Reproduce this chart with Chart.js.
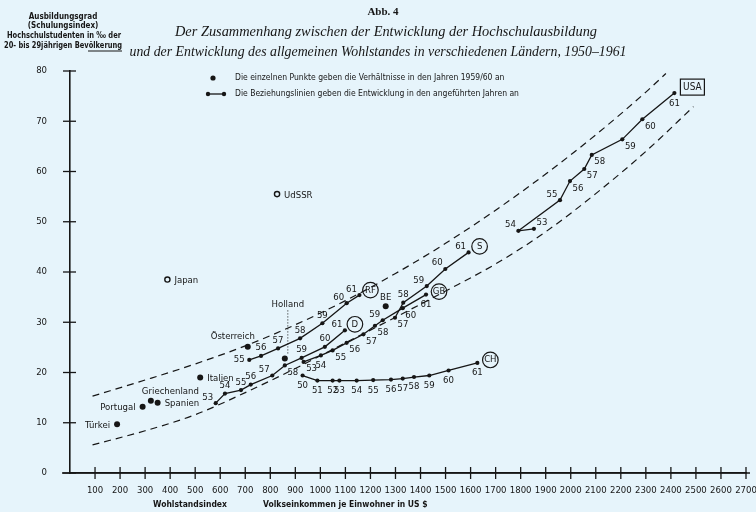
<!DOCTYPE html>
<html><head><meta charset="utf-8">
<script src="https://cdn.jsdelivr.net/npm/chart.js@4"></script>
<style>html,body{margin:0;padding:0;background:#e6f4fb;}canvas{display:block}</style>
</head><body>
<canvas id="c" width="756" height="512"></canvas>
<script>
// ---- data ----
const xTickValues = [0,100,200,300,400,500,600,700,800,900,1000,1100,1200,1300,1400,1500,1600,1700,1800,1900,2000,2100,2200,2300,2400,2500,2600,2700];
const yTickValues = [0,10,20,30,40,50,60,70,80];

const yearsD = [53,54,55,56,57,58,59,60,61];
const incomeD = [582,619,683,722,808,858,925,1018,1098];
const indexD = [13.9,15.8,16.5,17.6,19.4,21.4,22.9,25.1,28.4];

const yearsRF = [55,56,57,58,59,60,61];
const incomeRF = [716,763,831,919,1008,1105,1156];
const indexRF = [22.5,23.3,24.8,26.8,29.8,33.8,35.4];

const yearsGB = [53,54,55,56,57,58,59,60,61];
const incomeGB = [933,1002,1049,1105,1172,1218,1249,1329,1422];
const indexGB = [22.1,23.4,24.4,25.9,27.6,29.3,30.4,32.8,35.5];

const yearsS = [57,58,59,60,61];
const incomeS = [1298,1331,1425,1499,1592];
const indexS = [30.9,33.9,37.2,40.6,43.9];

const yearsCH = [50,51,52,53,54,55,56,57,58,59,60,61];
const incomeCH = [929,988,1049,1076,1145,1211,1282,1329,1374,1435,1512,1627];
const indexCH = [19.4,18.4,18.4,18.4,18.4,18.5,18.6,18.8,19.1,19.4,20.4,21.9];

const yearsUSA = [53,54,55,56,57,58,59,60,61];
const incomeUSA = [1853,1791,1957,1997,2054,2084,2206,2286,2414];
const indexUSA = [48.6,48.2,54.3,58.1,60.5,63.3,66.4,70.4,75.6];

const singleNames = ['Türkei','Portugal','Griechenland','Spanien','Italien','Österreich','Holland','BE'];
const singleIncome = [188,290,323,350,520,710,858,1261];
const singleIndex = [9.7,13.2,14.4,14.0,19.0,25.1,22.8,33.2];

const openNames = ['Japan','UdSSR'];
const openIncome = [389,827];
const openIndex = [38.5,55.5];

const upperIncome = [90,300,500,700,900,1100,1300,1500,1700,1900,2100,2300,2380];
const upperIndex = [15.3,18.5,21.7,25.3,29.5,34.3,39.7,45.7,52.3,59.5,67.3,75.8,79.5];
const lowerIncome = [90,300,500,700,900,1100,1300,1500,1700,1900,2100,2300,2490];
const lowerIndex = [5.6,8.4,11.6,16.0,20.8,25.9,31.0,36.2,41.6,48.0,55.6,64.0,72.9];

// ---- label placement (style, not data) ----
const placeD = ['al','a','a','a','al','br','a','a','al'];
const placeRF = ['l','a','a','a','a','al','al'];
const placeGB = ['br','b','br','br','br','br','al','br','b'];
const placeS = ['br','a','al','al','al'];
const placeCH = ['b','b','b','b','b','b','b','b','b','b','b','b'];
const placeUSA = ['ar','al','al','br','br','br','br','br','b'];
const singlePlace = ['l','l','g','r','r','o','h','a'];

const bg = '#e6f4fb';
const ink = '#161616';
const SANS = '"Liberation Sans Narrow","DejaVu Sans Condensed","Arial Narrow",sans-serif';
const SERIF = '"Liberation Serif","DejaVu Serif",serif';

function pts(a, b){ return a.map((v,i)=>({x:v, y:b[i]})); }
function lineDs(tag, years, inc, idx, place){
  return { tag, years, place, showLine:true, data:pts(inc,idx), borderColor:ink, borderWidth:1.3,
    pointRadius:2.1, pointBackgroundColor:ink, pointBorderWidth:0, tension:0 };
}
function bandDs(inc, idx){
  return { showLine:true, data:pts(inc,idx), borderColor:ink, borderWidth:1.2, borderDash:[7,5],
    pointRadius:0, tension:0.4, cubicInterpolationMode:'monotone' };
}

const offsets = { a:[0,-8], b:[0,10], al:[-8,-6], ar:[8,-6], br:[8,7], bl:[-8,7], l:[-10,0], r:[10,0] };

const overlay = {
  id:'overlay',
  beforeDraw(chart){ const c=chart.ctx; c.save(); c.fillStyle=bg; c.fillRect(0,0,chart.width,chart.height); c.restore(); },
  afterDraw(chart){
    const c = chart.ctx, xs = chart.scales.x, ys = chart.scales.y;
    c.save();
    c.strokeStyle = ink; c.fillStyle = ink; c.lineWidth = 1.3;
    // axis extension and crossing tick marks
    c.beginPath(); c.moveTo(xs.left-8, ys.bottom); c.lineTo(xs.right+4, ys.bottom); c.stroke();
    ys.ticks.forEach(t=>{ const py=ys.getPixelForValue(t.value); c.beginPath(); c.moveTo(xs.left-7,py); c.lineTo(xs.left+6,py); c.stroke(); });
    xs.ticks.forEach(t=>{ if(t.value===0) return; const px=xs.getPixelForValue(t.value); c.beginPath(); c.moveTo(px,ys.bottom-6); c.lineTo(px,ys.bottom+6); c.stroke(); });

    // title
    c.textAlign='center'; c.textBaseline='middle';
    c.font = 'bold 11px '+SERIF; c.fillText('Abb. 4', 383, 12);
    c.font = 'italic 15px '+SERIF;
    c.fillText('Der Zusammenhang zwischen der Entwicklung der Hochschulausbildung', 386, 32, 422);
    c.fillText('und der Entwicklung des allgemeinen Wohlstandes in verschiedenen Ländern, 1950–1961', 378, 52, 497);

    // y axis title
    c.font = 'bold 8px '+SANS;
    c.fillText('Ausbildungsgrad', 63, 17);
    c.fillText('(Schulungsindex)', 63, 26);
    c.fillText('Hochschulstudenten in ‰ der', 64, 36, 114);
    c.fillText('20- bis 29jährigen Bevölkerung', 63, 46, 118);
    c.lineWidth = 1.2; c.beginPath(); c.moveTo(88,51); c.lineTo(122,51); c.stroke();

    // x axis titles
    c.font = 'bold 8.5px '+SANS;
    c.fillText('Wohlstandsindex', 190, 505);
    c.textAlign='left'; c.fillText('Volkseinkommen je Einwohner in US $', 263, 505);

    // legend
    c.font = '8.5px '+SANS; c.textAlign='left';
    c.beginPath(); c.arc(213,78,2.6,0,Math.PI*2); c.fill();
    c.fillText('Die einzelnen Punkte geben die Verhältnisse in den Jahren 1959/60 an', 235, 78);
    c.lineWidth=1.3; c.beginPath(); c.moveTo(208,94); c.lineTo(224,94); c.stroke();
    c.beginPath(); c.arc(208,94,2.2,0,Math.PI*2); c.fill();
    c.beginPath(); c.arc(224,94,2.2,0,Math.PI*2); c.fill();
    c.fillText('Die Beziehungslinien geben die Entwicklung in den angeführten Jahren an', 235, 94);

    // year labels & country marks
    c.font = '9.5px '+SANS; c.textAlign='center'; c.textBaseline='middle';
    chart.data.datasets.forEach((ds,i)=>{
      if(!ds.years) return;
      const meta = chart.getDatasetMeta(i);
      meta.data.forEach((p,j)=>{
        const o = offsets[ds.place[j]] || [0,-8];
        c.fillText(String(ds.years[j]), p.x+o[0], p.y+o[1]);
      });
      const last = meta.data[meta.data.length-1];
      c.lineWidth = 1.2;
      if(ds.tag==='USA'){
        const cx=last.x+18, cy=last.y-6;
        c.font='10px '+SANS; c.fillText('USA', cx, cy);
        c.strokeRect(cx-12, cy-8, 24, 16);
        c.font='9.5px '+SANS;
      } else {
        const d = {RF:[11,-5], D:[10,-6], GB:[13,-3], S:[11,-6], CH:[13,-3]}[ds.tag];
        const cx=last.x+d[0], cy=last.y+d[1];
        c.beginPath(); c.arc(cx,cy,7.8,0,Math.PI*2); c.stroke();
        c.fillText(ds.tag, cx, cy);
      }
    });

    // single point names
    c.font = '9.5px '+SANS;
    chart.data.datasets.forEach((ds,i)=>{
      if(!ds.names) return;
      const meta = chart.getDatasetMeta(i);
      meta.data.forEach((p,j)=>{
        const k = ds.names[j], pl = ds.place[j];
        if(pl==='l'){ c.textAlign='right'; c.fillText(k, p.x-7, p.y+1); }
        else if(pl==='r'){ c.textAlign='left'; c.fillText(k, p.x+7, p.y+1); }
        else if(pl==='g'){ c.textAlign='left'; c.fillText(k, p.x-9, p.y-9); }
        else if(pl==='o'){ c.textAlign='center'; c.fillText(k, p.x-15, p.y-10); }
        else if(pl==='a'){ c.textAlign='center'; c.fillText(k, p.x, p.y-9); }
        else if(pl==='h'){
          c.textAlign='center'; c.fillText(k, p.x+3, p.y-54);
          c.save(); c.setLineDash([1,2]); c.lineWidth=1; c.beginPath(); c.moveTo(p.x+3,p.y-48); c.lineTo(p.x+3,p.y-4); c.stroke(); c.restore();
        }
      });
    });
    c.restore();
  }
};

new Chart(document.getElementById('c'), {
  type:'scatter',
  data:{ datasets:[
    bandDs(upperIncome, upperIndex),
    bandDs(lowerIncome, lowerIndex),
    lineDs('D', yearsD, incomeD, indexD, placeD),
    lineDs('RF', yearsRF, incomeRF, indexRF, placeRF),
    lineDs('GB', yearsGB, incomeGB, indexGB, placeGB),
    lineDs('S', yearsS, incomeS, indexS, placeS),
    lineDs('CH', yearsCH, incomeCH, indexCH, placeCH),
    lineDs('USA', yearsUSA, incomeUSA, indexUSA, placeUSA),
    { names:singleNames, place:singlePlace, data:pts(singleIncome, singleIndex), showLine:false,
      pointRadius:3, pointBackgroundColor:ink, pointBorderWidth:0 },
    { names:openNames, place:['r','r'], data:pts(openIncome, openIndex), showLine:false,
      pointRadius:2.6, pointBackgroundColor:bg, pointBorderColor:ink, pointBorderWidth:1.4 }
  ]},
  options:{
    responsive:false, animation:false, devicePixelRatio:1,
    layout:{ padding:{ top:71, right:10, bottom:0, left:0 } },
    plugins:{ legend:{display:false}, title:{display:false}, tooltip:{enabled:false} },
    scales:{
      x:{ type:'linear', min:0, max:2700,
        afterFit(s){ s.height = 39; s.paddingLeft = 0; s.paddingRight = 0; },
        afterBuildTicks(s){ s.ticks = xTickValues.map(v=>({value:v})); },
        grid:{ display:false, drawTicks:false }, border:{ color:ink, width:1.4 },
        ticks:{ padding:12, color:ink, font:{ family:SANS, size:9.5 }, maxRotation:0, autoSkip:false,
          callback:(v)=> v===0 ? '' : String(v) } },
      y:{ type:'linear', min:0, max:80,
        afterFit(s){ s.width = 70; s.paddingTop = 0; s.paddingBottom = 0; },
        afterBuildTicks(s){ s.ticks = yTickValues.map(v=>({value:v})); },
        grid:{ display:false, drawTicks:false }, border:{ color:ink, width:1.6 },
        ticks:{ padding:23, color:ink, font:{ family:SANS, size:9.5 } } }
    }
  },
  plugins:[overlay]
});
</script>
</body></html>
